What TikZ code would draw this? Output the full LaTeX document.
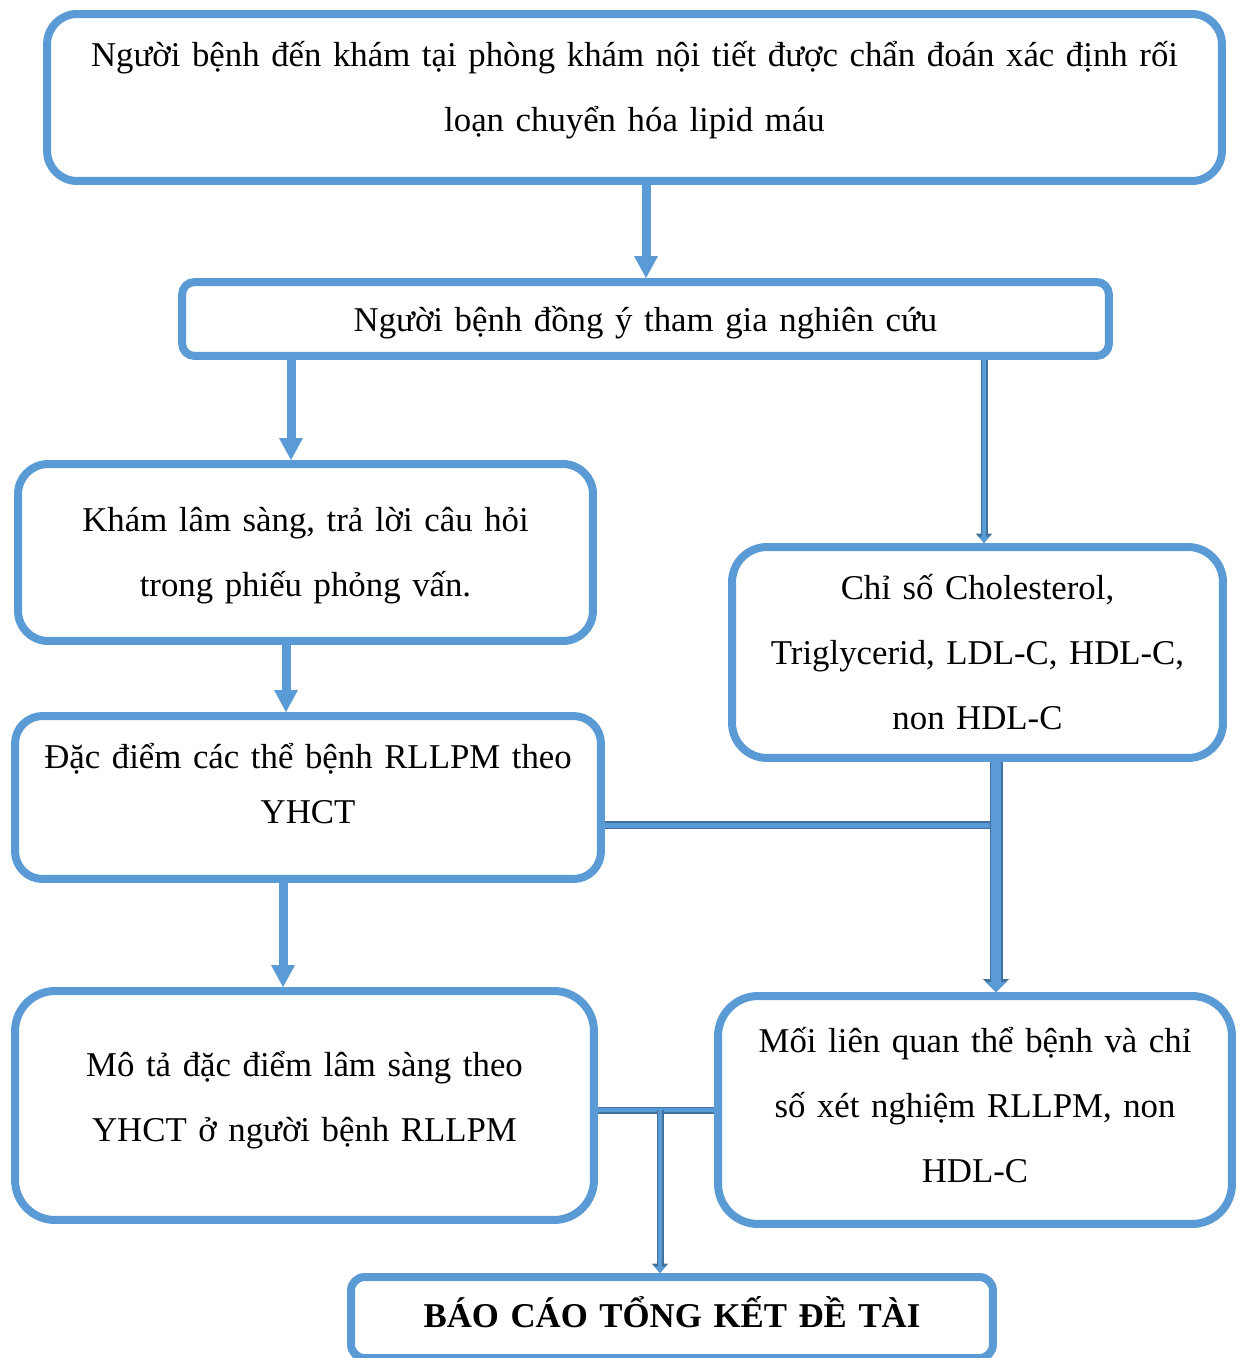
\documentclass[tikz,border=0pt]{standalone}
\usepackage{fontspec}
\setmainfont{Liberation Serif}
\usepackage{xcolor}
\usetikzlibrary{arrows.meta}
\definecolor{boxblue}{RGB}{91,155,213}
\definecolor{edgeblue}{RGB}{65,113,156}
\tikzset{
	box/.style={draw=boxblue, line width=0.16cm, rounded corners=#1, align=center, inner sep=0pt, font=\fontsize{19.8}{37}\selectfont},
	box/.default=0.6cm,
	flowarrow/.style={draw=boxblue, line width=0.18cm, -{Triangle[width=0.48cm, length=0.44cm, line width'=0pt]}},
	blockline/.style={draw=boxblue, line width=#1, preaction={draw=edgeblue, line width=#1+0.06cm}},
	thinarrow/.style={draw=boxblue, line width=0.08cm, -{Triangle[width=0.23cm, length=0.13cm, line width'=0pt]}, preaction={draw=edgeblue, line width=0.14cm, -{Triangle[width=0.33cm, length=0.19cm, line width'=0pt]}}},
	thickarrow/.style={draw=boxblue, line width=0.2cm, -{Triangle[width=0.42cm, length=0.2cm, line width'=0pt]}, preaction={draw=edgeblue, line width=0.26cm, -{Triangle[width=0.52cm, length=0.26cm, line width'=0pt]}}}
}

\begin{document}
\frenchspacing
\begin{tikzpicture}[x=0.02cm, y=-0.02cm]
			\useasboundingbox (0,0) rectangle (1239,1358);
			\coordinate (X1) at (646,0);
			\coordinate (X2) at (291,0);
			\coordinate (X3) at (984,0);
			\coordinate (X4) at (286,0);
			\coordinate (X5) at (283,0);
			\coordinate (J1) at (996,825);
			\coordinate (J2) at (660,1110);
			\node[box, text width=23.5cm, minimum height=3.34cm, text depth=1.73cm] (BN) at (634.5,97.5) {Người bệnh đến khám tại phòng khám nội tiết được chẩn đoán xác định rối\\loạn chuyển hóa lipid máu};
			\node[box=0.25cm, text width=18.54cm, minimum height=1.48cm, text depth=0cm] (DY) at (645.5,319) {Người bệnh đồng ý tham gia nghiên cứu};
			\node[box, text width=11.5cm, minimum height=3.54cm, text depth=1.31cm] (KLS) at (305.5,552.5) {Khám lâm sàng, trả lời câu hỏi\\trong phiếu phỏng vấn.};
			\node[box=0.7cm, text width=9.82cm, minimum height=4.22cm] (CS) at (977.5,652.5) {Chỉ số Cholesterol,\\Triglycerid, LDL-C, HDL-C,\\non HDL-C};
			\node[box=0.55cm, text width=11.72cm, minimum height=3.26cm, text depth=1.66cm, font=\fontsize{19.8}{31.3}\selectfont] (DD) at (308,797.5) {Đặc điểm các thể bệnh RLLPM theo\\YHCT};
			\node[box=0.8cm, text width=11.58cm, minimum height=4.58cm, text depth=1.67cm] (MT) at (304.5,1105.5) {Mô tả đặc điểm lâm sàng theo\\YHCT ở người bệnh RLLPM};
			\node[box=0.8cm, text width=10.28cm, minimum height=4.56cm, text depth=2.8cm] (ML) at (975,1110) {Mối liên quan thể bệnh và chỉ\\số xét nghiệm RLLPM, non\\HDL-C};
			\node[box=0.27cm, text width=12.84cm, minimum height=1.62cm, text depth=0.24cm] (BC) at (672,1317.5) {\textbf{BÁO CÁO TỔNG KẾT ĐỀ TÀI}};
			\draw[flowarrow] (BN.south -| X1) -- (DY.north -| X1);
			\draw[flowarrow] (DY.south -| X2) -- (KLS.north -| X2);
			\draw[thinarrow] (DY.south -| X3) -- (CS.north -| X3);
			\draw[flowarrow] (KLS.south -| X4) -- (DD.north -| X4);
			\draw[flowarrow] (DD.south -| X5) -- (MT.north -| X5);
			\draw[blockline=0.1cm] (DD.east |- J1) -- (J1);
			\draw[thickarrow] (CS.south -| J1) -- (ML.north -| J1);
			\draw[blockline=0.08cm] (MT.east |- J2) -- (ML.west |- J2);
			\draw[thinarrow] (J2) -- (BC.north -| J2);
		\end{tikzpicture}
\end{document}
